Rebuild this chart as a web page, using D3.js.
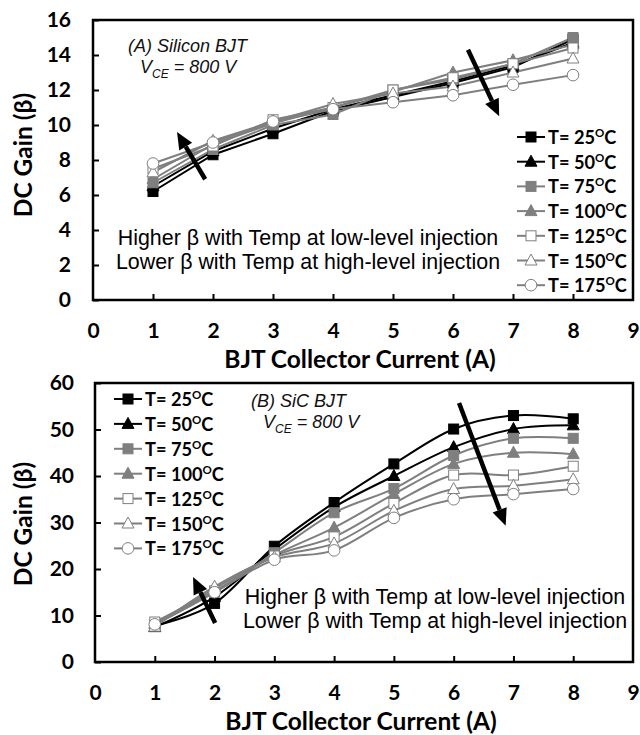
<!DOCTYPE html>
<html><head><meta charset="utf-8">
<script src="https://cdn.jsdelivr.net/npm/d3@7"></script>
<style>
html,body{margin:0;padding:0;background:#fff;}
svg{display:block;}
</style></head>
<body>
<svg id="chart" width="640" height="735"></svg>
<script>
// ---------- data ----------
const currents = [1, 2, 3, 4, 5, 6, 7, 8];
const xTickValues = [0, 1, 2, 3, 4, 5, 6, 7, 8, 9];
const siYTicks = [0, 2, 4, 6, 8, 10, 12, 14, 16];
const sicYTicks = [0, 10, 20, 30, 40, 50, 60];
const tempLabels = ["25", "50", "75", "100", "125", "150", "175"];

// (A) Silicon BJT DC gain
const si25  = [6.2, 8.3, 9.5, 10.8, 11.6, 12.4, 13.3, 14.9];
const si50  = [6.5, 8.5, 9.8, 10.9, 11.7, 12.5, 13.4, 14.7];
const si75  = [6.7, 8.6, 10.0, 10.6, 12.0, 12.6, 13.5, 15.0];
const si100 = [6.9, 8.9, 10.1, 11.0, 11.9, 13.0, 13.7, 14.6];
const si125 = [7.5, 8.8, 10.3, 11.0, 12.0, 12.7, 13.5, 14.4];
const si150 = [7.3, 9.1, 10.2, 11.2, 11.8, 12.2, 13.0, 13.8];
const si175 = [7.8, 9.0, 10.2, 10.9, 11.3, 11.7, 12.3, 12.85];

// (B) SiC BJT DC gain
const sic25  = [7.8, 12.6, 24.9, 34.3, 42.6, 50.1, 53.0, 52.3];
const sic50  = [7.5, 14.0, 24.2, 33.3, 40.0, 46.2, 50.1, 50.9];
const sic75  = [8.0, 15.0, 23.5, 32.1, 37.3, 44.4, 48.1, 48.1];
const sic100 = [8.2, 15.8, 23.0, 28.9, 36.1, 42.6, 45.0, 44.7];
const sic125 = [8.6, 15.3, 22.8, 26.9, 34.1, 40.2, 40.2, 42.1];
const sic150 = [7.6, 16.2, 22.5, 25.5, 32.5, 37.2, 37.9, 39.3];
const sic175 = [8.1, 15.0, 22.0, 24.0, 31.0, 35.0, 36.1, 37.2];

// trend arrows [x0, y0, x1(tip), y1(tip)] in data units
const siArrowLow  = [1.87, 6.9, 1.40, 9.6];
const siArrowHigh = [6.25, 14.3, 6.77, 10.5];
const sicArrowLow  = [2.01, 8.4, 1.64, 18.3];
const sicArrowHigh = [6.09, 55.7, 6.87, 29.3];

const noteLine1 = "Higher \u03B2 with Temp at low-level injection";
const noteLine2 = "Lower \u03B2 with Temp at high-level injection";

// ---------- styles ----------
const BLACK = "#000", GRAY = "#7f7f7f";
const seriesStyle = [
  {line: BLACK, shape: "square",   fill: BLACK},
  {line: BLACK, shape: "triangle", fill: BLACK},
  {line: GRAY,  shape: "square",   fill: GRAY},
  {line: GRAY,  shape: "triangle", fill: GRAY},
  {line: GRAY,  shape: "square",   fill: "#fff"},
  {line: GRAY,  shape: "triangle", fill: "#fff"},
  {line: GRAY,  shape: "circle",   fill: "#fff"}
];
const BOLD = "Lato, 'Open Sans', sans-serif";
const ARIAL = "'Liberation Sans', Arial, sans-serif";

const svg = d3.select("#chart");

function drawMarker(g, shape, cx, cy, fill, stroke) {
  if (shape === "square") {
    g.append("rect").attr("x", cx - 5).attr("y", cy - 5).attr("width", 10).attr("height", 10)
      .attr("fill", fill).attr("stroke", stroke).attr("stroke-width", 1);
  } else if (shape === "triangle") {
    g.append("path").attr("d", `M${cx},${cy - 6.5}L${cx + 6},${cy + 4.5}L${cx - 6},${cy + 4.5}Z`)
      .attr("fill", fill).attr("stroke", stroke).attr("stroke-width", 1);
  } else {
    g.append("circle").attr("cx", cx).attr("cy", cy).attr("r", 5.8)
      .attr("fill", fill).attr("stroke", stroke).attr("stroke-width", 1);
  }
}

function tempText(sel, t) {
  sel.append("tspan").text("T= " + t);
  sel.append("tspan").text("O").attr("font-size", "11.5px").attr("dy", "-7");
  sel.append("tspan").text("C").attr("dy", "7");
}

function drawChart(cfg) {
  const x = d3.scaleLinear().domain([0, 9]).range([cfg.left, cfg.right]);
  const y = d3.scaleLinear().domain(cfg.yDomain).range([cfg.bottom, cfg.top]);
  const g = svg.append("g");

  // axes with inward ticks
  const ax = g.append("g").attr("transform", `translate(0,${cfg.bottom})`)
    .call(d3.axisBottom(x).tickValues(xTickValues).tickSize(-6).tickPadding(23).tickFormat(d3.format("d")));
  const ay = g.append("g").attr("transform", `translate(${cfg.left},0)`)
    .call(d3.axisLeft(y).tickValues(cfg.yTicks).tickSize(-6).tickPadding(cfg.yPad).tickFormat(d3.format("d")));
  [ax, ay].forEach(a => {
    a.select(".domain").remove();
    a.selectAll("line").attr("stroke", "#000").attr("stroke-width", 2);
    a.selectAll("text").attr("font-family", BOLD).attr("font-weight", "bold").attr("font-size", "21px").attr("fill", "#000");
  });
  ax.selectAll(".tick").filter(d => d === 0 || d === 9).select("line").remove();

  // frame
  g.append("rect").attr("x", cfg.left).attr("y", cfg.top)
    .attr("width", cfg.right - cfg.left).attr("height", cfg.bottom - cfg.top)
    .attr("fill", "none").attr("stroke", "#000").attr("stroke-width", 2.5);

  // titles
  g.append("text").attr("x", (cfg.left + cfg.right) / 2 - 3).attr("y", cfg.bottom + 68)
    .attr("text-anchor", "middle").attr("font-family", BOLD).attr("font-weight", "bold")
    .attr("font-size", "24.5px").text("BJT Collector Current (A)");
  g.append("text").attr("transform", `translate(32,${cfg.yTitleY}) rotate(-90)`)
    .attr("text-anchor", "middle").attr("font-family", BOLD).attr("font-weight", "bold")
    .attr("font-size", "24.5px").text("DC Gain (\u03B2)");

  // series
  const lineGen = d3.line().x((d, i) => x(currents[i])).y(d => y(d)).curve(cfg.curve);
  cfg.series.forEach((vals, si) => {
    const st = seriesStyle[si];
    g.append("path").attr("d", lineGen(vals)).attr("fill", "none")
      .attr("stroke", st.line).attr("stroke-width", 2);
  });
  cfg.series.forEach((vals, si) => {
    const st = seriesStyle[si];
    const mg = g.append("g");
    vals.forEach((v, i) => drawMarker(mg, st.shape, x(currents[i]), y(v), st.fill, st.fill === "#fff" ? GRAY : st.fill));
  });

  // arrows
  [cfg.arrowA, cfg.arrowB].forEach(a => {
    const x0 = x(a[0]), y0 = y(a[1]), x1 = x(a[2]), y1 = y(a[3]);
    const ang = Math.atan2(y1 - y0, x1 - x0);
    const hl = 17, hw = 7.5;
    const bx = x1 - hl * Math.cos(ang), by = y1 - hl * Math.sin(ang);
    g.append("line").attr("x1", x0).attr("y1", y0).attr("x2", bx).attr("y2", by)
      .attr("stroke", "#000").attr("stroke-width", 4.5);
    g.append("path").attr("d",
      `M${x1},${y1}L${bx + hw * Math.sin(ang)},${by - hw * Math.cos(ang)}L${bx - hw * Math.sin(ang)},${by + hw * Math.cos(ang)}Z`)
      .attr("fill", "#000");
  });

  // device label
  const lab = g.append("text").attr("font-family", ARIAL).attr("font-style", "italic").attr("font-size", "18px").attr("fill", "#111");
  lab.append("tspan").attr("x", cfg.labX).attr("y", cfg.labY).text(cfg.label);
  const l2 = g.append("text").attr("font-family", ARIAL).attr("font-style", "italic").attr("font-size", "18px").attr("fill", "#111")
    .attr("x", cfg.labX + 12).attr("y", cfg.labY + 21);
  l2.append("tspan").text("V");
  l2.append("tspan").text("CE").attr("font-size", "12px").attr("dy", "5");
  l2.append("tspan").text(" = 800 V").attr("dy", "-5");

  // note
  [noteLine1, noteLine2].forEach((t, i) => {
    g.append("text").attr("x", cfg.noteX).attr("y", cfg.noteY + i * 24).attr("text-anchor", "middle")
      .attr("font-family", ARIAL).attr("font-size", "21.4px").attr("fill", "#000").text(t);
  });

  // legend
  tempLabels.forEach((t, i) => {
    const st = seriesStyle[i];
    const ly = cfg.legY + i * cfg.legStep;
    const lg = g.append("g");
    lg.append("line").attr("x1", cfg.legX).attr("x2", cfg.legX + 28).attr("y1", ly).attr("y2", ly)
      .attr("stroke", st.line).attr("stroke-width", 2);
    drawMarker(lg, st.shape, cfg.legX + 14, ly, st.fill, st.fill === "#fff" ? GRAY : st.fill);
    const tx = lg.append("text").attr("x", cfg.legX + 31).attr("y", ly + 7)
      .attr("font-family", BOLD).attr("font-weight", "bold").attr("font-size", "18.2px").attr("fill", "#000");
    tempText(tx, t);
  });
}

drawChart({
  left: 93, right: 633, top: 20, bottom: 300, yDomain: [0, 16], yTicks: siYTicks, yPad: 22,
  yTitleY: 155, curve: d3.curveLinear,
  series: [si25, si50, si75, si100, si125, si150, si175],
  arrowA: siArrowLow, arrowB: siArrowHigh,
  label: "(A) Silicon BJT", labX: 128, labY: 52,
  noteX: 308, noteY: 245,
  legX: 517, legY: 137, legStep: 24.7
});

drawChart({
  left: 95, right: 633, top: 383, bottom: 662, yDomain: [0, 60], yTicks: sicYTicks, yPad: 21,
  yTitleY: 524, curve: d3.curveCardinal.tension(0),
  series: [sic25, sic50, sic75, sic100, sic125, sic150, sic175],
  arrowA: sicArrowLow, arrowB: sicArrowHigh,
  label: "(B) SiC BJT", labX: 251, labY: 407,
  noteX: 435, noteY: 604,
  legX: 114, legY: 399, legStep: 24.9
});
</script>
</body></html>
